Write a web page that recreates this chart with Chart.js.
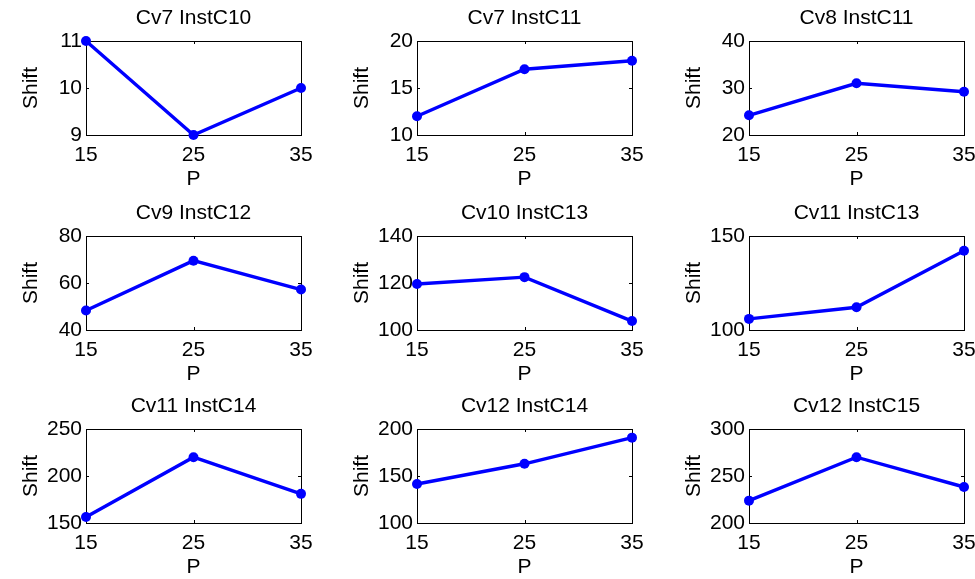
<!DOCTYPE html>
<html>
<head>
<meta charset="utf-8">
<script src="https://cdn.jsdelivr.net/npm/chart.js@4"></script>
<style>
  html, body { margin: 0; padding: 0; background: #fff; overflow: hidden; }
  #wrap { position: relative; width: 975px; height: 579px; overflow: hidden; }
  #wrap canvas { position: absolute; }
</style>
</head>
<body>
<div id="wrap"></div>
<script>
// data
const titles = ['Cv7 InstC10', 'Cv7 InstC11', 'Cv8 InstC11',
                'Cv9 InstC12', 'Cv10 InstC13', 'Cv11 InstC13',
                'Cv11 InstC14', 'Cv12 InstC14', 'Cv12 InstC15'];
const pValues = [15, 25, 35];
const shift1 = [11, 9, 10];
const shift2 = [12, 17, 17.9];
const shift3 = [24.2, 31, 29.2];
const shift4 = [48.3, 69.5, 57.2];
const shift5 = [119.6, 122.5, 103.8];
const shift6 = [105.9, 112.1, 142.2];
const shift7 = [156.4, 220, 181];
const shift8 = [141.5, 163, 190.8];
const shift9 = [223.8, 270, 238.3];
const yMin  = [9, 10, 20, 40, 100, 100, 150, 100, 200];
const yMax  = [11, 20, 40, 80, 140, 150, 250, 200, 300];
const yStep = [1, 5, 10, 20, 20, 50, 50, 50, 50];
const xTicks = [15, 25, 35];

const allShift = [shift1, shift2, shift3, shift4, shift5, shift6, shift7, shift8, shift9];

// layout of the 3x3 grid (plot box positions)
const colLeft = [86, 417, 749];
const rowTop = [41, 236, 429];
const CW = 313, CH = 195;
const OX = 86, OY = 41, PLOT_W = 215, PLOT_H = 94;

const FONT = '"Liberation Sans", Arial, Helvetica, sans-serif';
const FS = 21;

// matlab-ish box with inward ticks
const boxPlugin = {
  id: 'matlabBox',
  beforeDatasetsDraw(chart) {
    const {ctx, chartArea: a, scales} = chart;
    ctx.save();
    ctx.strokeStyle = '#000';
    ctx.lineWidth = 1;
    ctx.strokeRect(Math.round(a.left) + 0.5, Math.round(a.top) + 0.5,
                   Math.round(a.right - a.left), Math.round(a.bottom - a.top));
    ctx.beginPath();
    scales.x.ticks.forEach(t => {
      const x = Math.round(scales.x.getPixelForValue(t.value)) + 0.5;
      ctx.moveTo(x, a.bottom); ctx.lineTo(x, a.bottom - 3);
      ctx.moveTo(x, a.top); ctx.lineTo(x, a.top + 3);
    });
    scales.y.ticks.forEach(t => {
      const y = Math.round(scales.y.getPixelForValue(t.value)) + 0.5;
      ctx.moveTo(a.left, y); ctx.lineTo(a.left + 3, y);
      ctx.moveTo(a.right, y); ctx.lineTo(a.right - 3, y);
    });
    ctx.stroke();
    ctx.restore();
  }
};

const wrap = document.getElementById('wrap');

allShift.forEach((vals, i) => {
  const row = Math.floor(i / 3), col = i % 3;
  const cv = document.createElement('canvas');
  cv.width = CW; cv.height = CH;
  cv.style.left = (colLeft[col] - OX) + 'px';
  cv.style.top = (rowTop[row] - OY) + 'px';
  wrap.appendChild(cv);

  new Chart(cv.getContext('2d'), {
    type: 'line',
    data: {
      datasets: [{
        data: pValues.map((p, k) => ({x: p, y: vals[k]})),
        borderColor: '#0000ff',
        backgroundColor: '#0000ff',
        borderWidth: 3.4,
        pointRadius: 5,
        pointBorderWidth: 0,
        pointBackgroundColor: '#0000ff',
        tension: 0,
        clip: false
      }]
    },
    options: {
      responsive: false,
      animation: false,
      devicePixelRatio: 1,
      layout: { padding: { left: 0, right: CW - OX - PLOT_W, top: 0, bottom: 0 } },
      plugins: {
        legend: { display: false },
        tooltip: { enabled: false },
        title: {
          display: true,
          text: titles[i],
          fullSize: false,
          color: '#000',
          font: { family: FONT, size: FS, weight: 'normal', lineHeight: 1.2 },
          padding: { top: 6, bottom: 9.8 }
        }
      },
      scales: {
        x: {
          type: 'linear',
          min: 15, max: 35,
          afterBuildTicks: s => { s.ticks = xTicks.map(v => ({value: v})); },
          afterFit: s => {
            s.height = CH - OY - PLOT_H;
            s.paddingLeft = 0; s.paddingRight = 0;
          },
          grid: { display: false, drawTicks: false },
          border: { display: false },
          ticks: { color: '#000', padding: 8, maxRotation: 0, font: { family: FONT, size: FS } },
          title: {
            display: true, text: 'P', color: '#000',
            font: { family: FONT, size: FS, lineHeight: 1.2 },
            padding: { top: 0, bottom: 3 }
          }
        },
        y: {
          type: 'linear',
          min: yMin[i], max: yMax[i],
          ticks: { stepSize: yStep[i], color: '#000', padding: 4, font: { family: FONT, size: FS } },
          afterFit: s => {
            s.width = OX;
            s.paddingTop = 0; s.paddingBottom = 0;
          },
          grid: { display: false, drawTicks: false },
          border: { display: false },
          title: {
            display: true, text: 'Shift', color: '#000',
            font: { family: FONT, size: FS, lineHeight: 1.2 },
            padding: { top: 19, bottom: 0 }
          }
        }
      }
    },
    plugins: [boxPlugin]
  });
});
</script>
</body>
</html>
